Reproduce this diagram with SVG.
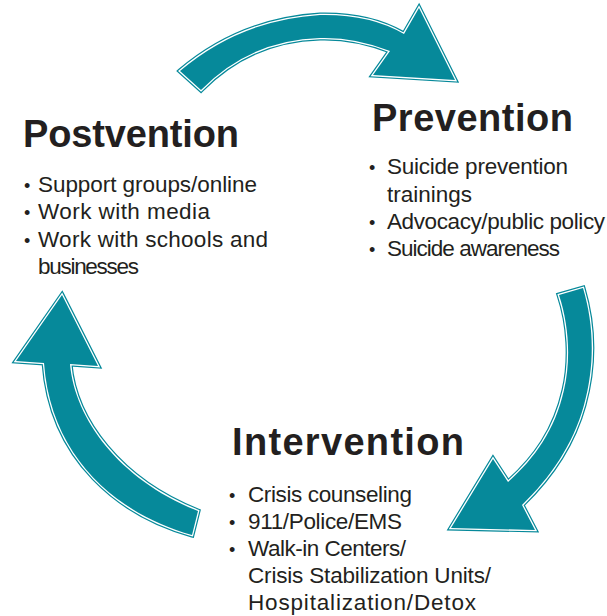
<svg xmlns="http://www.w3.org/2000/svg" xmlns:xlink="http://www.w3.org/1999/xlink" width="607" height="616" viewBox="0 0 607 616">
  <style>
    .bg { fill: #ffffff; }
    .a-out { fill: none; stroke: #06899A; stroke-width: 5; stroke-linejoin: miter; stroke-miterlimit: 6; }
    .a-white { fill: none; stroke: #ffffff; stroke-width: 2.6; stroke-linejoin: miter; stroke-miterlimit: 6; }
    .a-fill { fill: #06899A; stroke: none; }
    .head { font-family: "Liberation Sans", Arial, sans-serif; font-weight: bold; font-size: 38px; fill: #231F20; }
    .item { font-family: "Liberation Sans", Arial, sans-serif; font-size: 22.5px; fill: #231F20; }
    .dot { font-family: "Liberation Sans", Arial, sans-serif; font-size: 18px; fill: #231F20; }
  </style>
  <defs>
    <path id="arrowTop" d="M180,71 Q240,20 320,15 Q370,14 404,34 L419,8 L455,80 L373,75 L390,51 Q355,37 320,38 Q250,40 201,90 Z"/>
    <path id="arrowRight" d="M559,295 L583,288 C594,325 595,365 584,405 C573,445 550,478 522,505 L535,530 L451,528 L493,459 L508,482 C535,458 555,430 564,390 C571,360 569,325 559,295 Z"/>
    <path id="arrowLeft" d="M62,295 L98,366 L70,364 C75,420 120,480 198,511 L192,535 C120,515 51,460 44,363 L16,361 Z"/>
  </defs>
  <rect class="bg" x="0" y="0" width="607" height="616"/>

  <g id="connectors">
    <g id="arrow-postvention-to-prevention">
      <use xlink:href="#arrowTop" class="a-out"/>
      <use xlink:href="#arrowTop" class="a-white"/>
      <use xlink:href="#arrowTop" class="a-fill"/>
    </g>
    <g id="arrow-prevention-to-intervention">
      <use xlink:href="#arrowRight" class="a-out"/>
      <use xlink:href="#arrowRight" class="a-white"/>
      <use xlink:href="#arrowRight" class="a-fill"/>
    </g>
    <g id="arrow-intervention-to-postvention">
      <use xlink:href="#arrowLeft" class="a-out"/>
      <use xlink:href="#arrowLeft" class="a-white"/>
      <use xlink:href="#arrowLeft" class="a-fill"/>
    </g>
  </g>

  <g id="postvention">
    <text class="head" x="23" y="147" textLength="216">Postvention</text>
    <text class="dot" x="24" y="192">•</text>
    <text class="item" x="38" y="192" textLength="219">Support groups/online</text>
    <text class="dot" x="24" y="219">•</text>
    <text class="item" x="38" y="219" textLength="172">Work with media</text>
    <text class="dot" x="24" y="247">•</text>
    <text class="item" x="38" y="247" textLength="230">Work with schools and</text>
    <text class="item" x="38" y="274" textLength="101">businesses</text>
  </g>

  <g id="prevention">
    <text class="head" x="372" y="131" textLength="201">Prevention</text>
    <text class="dot" x="369" y="174">•</text>
    <text class="item" x="387" y="174" textLength="181">Suicide prevention</text>
    <text class="item" x="387" y="201.5">trainings</text>
    <text class="dot" x="369" y="229">•</text>
    <text class="item" x="387" y="229" textLength="218">Advocacy/public policy</text>
    <text class="dot" x="369" y="256">•</text>
    <text class="item" x="387" y="256" textLength="173">Suicide awareness</text>
  </g>

  <g id="intervention">
    <text class="head" x="232" y="455" textLength="232">Intervention</text>
    <text class="dot" x="229" y="501.5">•</text>
    <text class="item" x="248" y="501.5" textLength="164">Crisis counseling</text>
    <text class="dot" x="229" y="528.5">•</text>
    <text class="item" x="248" y="528.5" textLength="154">911/Police/EMS</text>
    <text class="dot" x="229" y="556">•</text>
    <text class="item" x="248" y="556" textLength="158">Walk-in Centers/</text>
    <text class="item" x="248" y="583" textLength="243">Crisis Stabilization Units/</text>
    <text class="item" x="248" y="610" textLength="228">Hospitalization/Detox</text>
  </g>
</svg>
